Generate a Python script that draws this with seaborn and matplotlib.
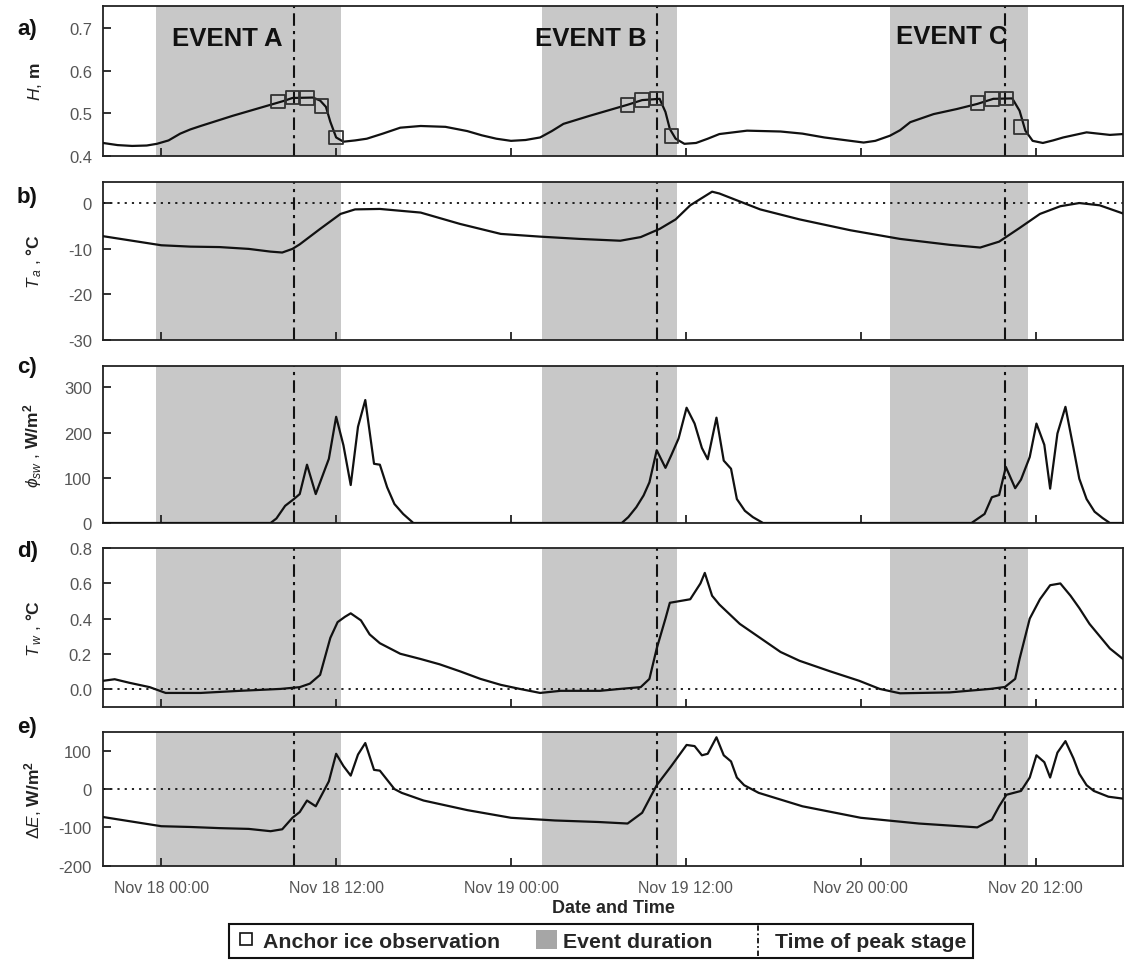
import numpy as np
import pandas as pd
import matplotlib
matplotlib.use("Agg")
import matplotlib.pyplot as plt
import matplotlib.dates as mdates
from matplotlib.lines import Line2D
from matplotlib.patches import Patch
from matplotlib.legend_handler import HandlerBase
from matplotlib import font_manager
import seaborn as sns

# ---------------------------------------------------------------- data
# times are hours relative to Nov 18 00:00
base = pd.Timestamp("2011-11-18 00:00")

stage_hours = [-4, -3, -2, -1, -0.3, 0.5, 1.3, 2.0, 2.7, 3.8, 4.9, 6.0, 7.3, 8.4, 9.0,
               10.4, 10.9, 11.3, 11.6, 12.0, 12.5, 13.3, 14.1, 15.2, 16.4, 17.8, 19.5,
               21.0, 22.0, 23.0, 24.0, 25.0, 26.0, 26.8, 27.6, 29.4, 31.0, 32.0, 33.0,
               34.2, 34.6, 34.9, 35.3, 35.9, 36.7, 37.5, 38.3, 40.2, 42.5, 44.0, 45.5,
               47.3, 48.2, 49.0, 50.0, 50.7, 51.4, 53.0, 54.6, 56.0, 57.1, 58.4, 58.9,
               59.3, 59.8, 60.5, 61.2, 61.9, 63.5, 65.1, 66.0]
stage_m = [0.430, 0.425, 0.423, 0.424, 0.428, 0.436, 0.452, 0.462, 0.470, 0.482, 0.494,
           0.505, 0.518, 0.529, 0.536, 0.537, 0.530, 0.515, 0.480, 0.443, 0.433, 0.436,
           0.440, 0.452, 0.466, 0.470, 0.468, 0.458, 0.448, 0.440, 0.435, 0.437, 0.443,
           0.458, 0.475, 0.494, 0.510, 0.520, 0.531, 0.534, 0.503, 0.463, 0.440, 0.428,
           0.430, 0.440, 0.451, 0.459, 0.457, 0.452, 0.443, 0.435, 0.431, 0.435, 0.447,
           0.460, 0.479, 0.498, 0.510, 0.522, 0.534, 0.535, 0.506, 0.459, 0.435, 0.430,
           0.436, 0.443, 0.455, 0.449, 0.451]

ice_hours = [8, 9, 10, 11, 12, 32, 33, 34, 35, 56, 57, 58, 59]
ice_stage = [0.528, 0.537, 0.536, 0.517, 0.443, 0.520, 0.531, 0.535, 0.447,
             0.524, 0.534, 0.535, 0.467]

air_hours = [-4, -2, 0, 2, 4, 6, 7.5, 8.3, 9.0, 9.5, 10.9, 12.3, 13.3, 15.0, 17.8, 20.5,
             23.3, 26.0, 28.7, 31.5, 32.9, 34.2, 35.3, 36.3, 37.0, 37.8, 38.3, 41.1,
             43.8, 47.3, 50.7, 54.1, 56.2, 57.5, 58.9, 60.3, 61.7, 63.0, 64.4, 66.0]
air_temp = [-7.2, -8.2, -9.2, -9.5, -9.6, -10.0, -10.6, -10.8, -10.0, -9.0, -5.6, -2.3,
            -1.3, -1.2, -2.0, -4.5, -6.7, -7.3, -7.8, -8.2, -7.4, -5.6, -3.5, -0.4, 1.0,
            2.6, 2.2, -1.3, -3.5, -5.9, -7.8, -9.1, -9.7, -8.4, -5.4, -2.3, -0.6, 0.1,
            -0.4, -2.2]

sw_hours = [-4, 7.5, 7.9, 8.5, 9.1, 9.5, 10.0, 10.6, 11.5, 12.0, 12.5, 13.0, 13.5, 14.0,
            14.6, 15.0, 15.5, 16.0, 16.6, 17.3, 31.6, 32.05, 32.6, 33.1, 33.5, 34.0, 34.6,
            35.0, 35.5, 36.05, 36.6, 37.1, 37.5, 38.1, 38.6, 39.1, 39.5, 40.05, 40.6, 41.3,
            55.6, 56.5, 57.0, 57.5, 57.96, 58.6, 59.0, 59.6, 60.06, 60.6, 61.0, 61.5,
            62.05, 62.6, 63.0, 63.5, 64.05, 64.6, 65.1, 66.0]
sw_flux = [0, 0, 10, 38, 53, 64, 129, 64, 142, 235, 172, 84, 213, 272, 131, 129, 79, 42,
           20, 0, 0, 13, 35, 61, 90, 161, 122, 150, 187, 255, 220, 166, 141, 233, 138, 120,
           53, 27, 13, 0, 0, 20, 57, 62, 124, 77, 96, 146, 220, 173, 76, 198, 257, 166,
           98, 53, 25, 11, 0, 0]

water_hours = [-4, -3.2, -2.2, -0.8, 0.3, 2.7, 5.4, 8.2, 9.5, 10.2, 10.9, 11.2, 11.6,
               12.1, 12.6, 13.0, 13.7, 14.3, 15.0, 16.4, 17.8, 19.1, 20.5, 21.9, 23.3,
               24.6, 26.0, 27.4, 30.1, 31.5, 32.9, 33.5, 34.0, 34.6, 34.9, 35.6, 36.3,
               37.0, 37.3, 37.8, 38.3, 39.7, 41.1, 42.5, 43.8, 45.9, 47.9, 49.3, 50.7,
               54.1, 56.9, 57.9, 58.6, 58.9, 59.6, 60.3, 61.0, 61.7, 62.4, 63.0, 63.7,
               64.4, 65.1, 66.0]
water_temp = [0.046, 0.055, 0.035, 0.010, -0.023, -0.023, -0.011, 0.000, 0.010, 0.030,
              0.080, 0.170, 0.290, 0.380, 0.410, 0.430, 0.390, 0.310, 0.260, 0.200, 0.170,
              0.140, 0.100, 0.057, 0.023, 0.000, -0.023, -0.011, -0.011, 0.000, 0.010,
              0.057, 0.230, 0.400, 0.490, 0.500, 0.510, 0.600, 0.660, 0.530, 0.480, 0.370,
              0.290, 0.210, 0.160, 0.100, 0.046, 0.000, -0.025, -0.020, 0.000, 0.011,
              0.057, 0.170, 0.400, 0.510, 0.590, 0.600, 0.530, 0.460, 0.370, 0.300, 0.230,
              0.170]

energy_hours = [-4, 0, 2, 4, 6, 7.5, 8.3, 9.0, 9.5, 10.0, 10.6, 11.5, 12.0, 12.5, 13.0,
                13.5, 14.0, 14.6, 15.0, 16.0, 16.5, 18.0, 21.0, 24.0, 27.0, 30.0, 32.0,
                33.0, 34.0, 35.0, 36.05, 36.6, 37.1, 37.5, 38.1, 38.6, 39.1, 39.5, 40.0,
                41.0, 44.0, 48.0, 52.0, 56.0, 57.0, 57.5, 58.0, 59.0, 59.6, 60.06, 60.6,
                61.0, 61.5, 62.05, 62.6, 63.0, 63.5, 64.0, 65.0, 66.0]
energy_flux = [-73, -97, -99, -102, -104, -110, -105, -75, -60, -30, -45, 20, 92, 60, 35,
               90, 120, 50, 48, 0, -10, -30, -55, -75, -82, -86, -90, -62, 10, 60, 115,
               112, 88, 92, 135, 88, 72, 30, 10, -10, -45, -75, -90, -100, -80, -45, -15,
               -5, 30, 88, 70, 30, 95, 125, 80, 40, 10, -5, -20, -25]

event_names = ["EVENT A", "EVENT B", "EVENT C"]
event_start_hours = [-0.35, 26.1, 50.0]
event_end_hours = [12.3, 35.4, 59.5]
peak_hours = [9.1, 34.0, 57.9]

tick_hours = [0, 12, 24, 36, 48, 60]
x_limits_hours = [-4, 66]


def to_time(hours):
    return base + pd.to_timedelta(np.asarray(hours, dtype=float), unit="h")


# ---------------------------------------------------------------- style
sns.set_style("ticks")
names = {f.name for f in font_manager.fontManager.ttflist}
main_font = "Liberation Sans" if "Liberation Sans" in names else "DejaVu Sans"
plt.rcParams["font.family"] = [main_font, "DejaVu Sans"]
plt.rcParams["mathtext.fontset"] = "custom"
plt.rcParams["mathtext.rm"] = main_font
plt.rcParams["mathtext.it"] = main_font + ":italic"
plt.rcParams["mathtext.bf"] = main_font + ":bold"
plt.rcParams["axes.linewidth"] = 1.2
plt.rcParams["axes.edgecolor"] = "#222222"

LINE = "#111111"
SHADE = "#c8c8c8"
TICKC = "#555555"

fig = plt.figure(figsize=(11.24, 9.62), dpi=100)
W, Hfig = 1124.0, 962.0
left_px, right_px = 103, 1123
panel_px = [(7.3, 156.7), (182.7, 340.7), (366.7, 524.0), (549.3, 708.0), (733.3, 866.7)]
axes = []
for top, bot in panel_px:
    axes.append(fig.add_axes([left_px / W, 1 - bot / Hfig, (right_px - left_px) / W,
                              (bot - top) / Hfig]))

series = [
    (stage_hours, stage_m),
    (air_hours, air_temp),
    (sw_hours, sw_flux),
    (water_hours, water_temp),
    (energy_hours, energy_flux),
]
ylims = [(0.4, 0.752), (-30, 4.8), (0, 348), (-0.103, 0.8), (-200, 148)]
yticks = [[0.4, 0.5, 0.6, 0.7], [-30, -20, -10, 0], [0, 100, 200, 300],
          [0.0, 0.2, 0.4, 0.6, 0.8], [-200, -100, 0, 100]]
yfmt = ["{:.1f}", "{:.0f}", "{:.0f}", "{:.1f}", "{:.0f}"]
ylabels = [r"$H$, $\mathbf{m}$",
           r"$T_{\,a}$ , $\mathbf{°C}$",
           r"$\phi_{sw}$ , $\mathbf{W/m^2}$",
           r"$T_{\,w}$ , $\mathbf{°C}$",
           r"$\Delta E$, $\mathbf{W/m^2}$"]
panel_tags = ["a)", "b)", "c)", "d)", "e)"]
tag_y_px = [30, 198, 367, 552, 728]

for i, ax in enumerate(axes):
    for s, e in zip(event_start_hours, event_end_hours):
        ax.axvspan(to_time([s])[0], to_time([e])[0], color=SHADE, lw=0, zorder=0)
    hrs, vals = series[i]
    df = pd.DataFrame({"time": to_time(hrs), "value": vals})
    sns.lineplot(data=df, x="time", y="value", ax=ax, color=LINE, lw=1.6, zorder=3)
    for p in peak_hours:
        ax.axvline(to_time([p])[0], color=LINE, lw=1.5, ls=(0, (6, 2.5, 1.5, 2.5)), zorder=2)
    if i in (1, 3, 4):
        ax.axhline(0, color=LINE, lw=1.3, ls=(0, (1.2, 2.8)), zorder=1)

    ax.set_xlim(to_time(x_limits_hours))
    ax.set_ylim(*ylims[i])
    ax.set_yticks(yticks[i])
    ax.set_yticklabels([yfmt[i].format(v) for v in yticks[i]])
    ax.set_xticks(to_time(tick_hours))
    ax.xaxis.set_major_formatter(mdates.DateFormatter("%b %d %H:%M"))
    ax.tick_params(axis="both", direction="in", length=6, width=1.3, color="#222222",
                   top=False, right=False)
    ax.tick_params(axis="y", labelsize=12, labelcolor=TICKC, pad=8)
    ax.tick_params(axis="x", labelsize=11.5, labelcolor=TICKC, pad=10)
    if i < 4:
        ax.tick_params(axis="x", labelbottom=False)
        ax.set_xlabel("")
    ax.set_ylabel(ylabels[i], fontsize=12.5, color="#222222")
    ax.yaxis.set_label_coords(-0.058, 0.5)
    for sp in ax.spines.values():
        sp.set_visible(True)
        sp.set_linewidth(1.3)
    fig.text(17 / W, 1 - tag_y_px[i] / Hfig, panel_tags[i], fontsize=16, fontweight="bold",
             ha="left", va="center", color="#111111")

# anchor ice observations on the stage panel
ice_df = pd.DataFrame({"time": to_time(ice_hours), "stage": ice_stage})
sns.scatterplot(data=ice_df, x="time", y="stage", ax=axes[0], marker="s", s=95,
                facecolor="none", edgecolor="#333333", linewidth=1.3, zorder=4)
axes[0].set_xlabel("")
axes[0].set_ylabel(ylabels[0], fontsize=12.5, color="#222222")

event_x_axes = [0.122, 0.478, 0.832]
event_y_axes = [0.79, 0.785, 0.80]
for name, xa, ya in zip(event_names, event_x_axes, event_y_axes):
    axes[0].text(xa, ya, name, transform=axes[0].transAxes, ha="center", va="center",
                 fontsize=18.5, fontweight="bold", color="#111111", zorder=5)

axes[4].set_xlabel("Date and Time", fontsize=13, fontweight="bold", labelpad=3)


class VerticalDashDot(HandlerBase):
    def create_artists(self, legend, orig_handle, xdescent, ydescent, width, height,
                       fontsize, trans):
        x = width / 2 - xdescent
        line = Line2D([x, x], [-ydescent - 0.35 * height, height * 1.35 - ydescent],
                      color="#111111", lw=1.3, ls=(0, (3, 1.5, 1, 1.5)))
        line.set_transform(trans)
        return [line]


peak_handle = Line2D([], [])
handles = [
    Line2D([], [], marker="s", ls="none", markersize=9, markerfacecolor="none",
           markeredgecolor="#111111", markeredgewidth=1.2),
    Patch(facecolor="#a6a6a6", edgecolor="none"),
    peak_handle,
]
labels = ["Anchor ice observation", "Event duration", "Time of peak stage"]
leg = fig.legend(handles, labels, loc="center", bbox_to_anchor=(0.535, 0.021), ncol=3,
                 frameon=True, fancybox=False, framealpha=1, edgecolor="#111111",
                 handlelength=1.0, handleheight=1.0, handletextpad=0.3, columnspacing=1.65,
                 borderpad=0.3, handler_map={peak_handle: VerticalDashDot()},
                 prop={"weight": "bold", "size": 15.3})
leg.get_frame().set_linewidth(1.5)

fig.savefig("out.png", dpi=100)
